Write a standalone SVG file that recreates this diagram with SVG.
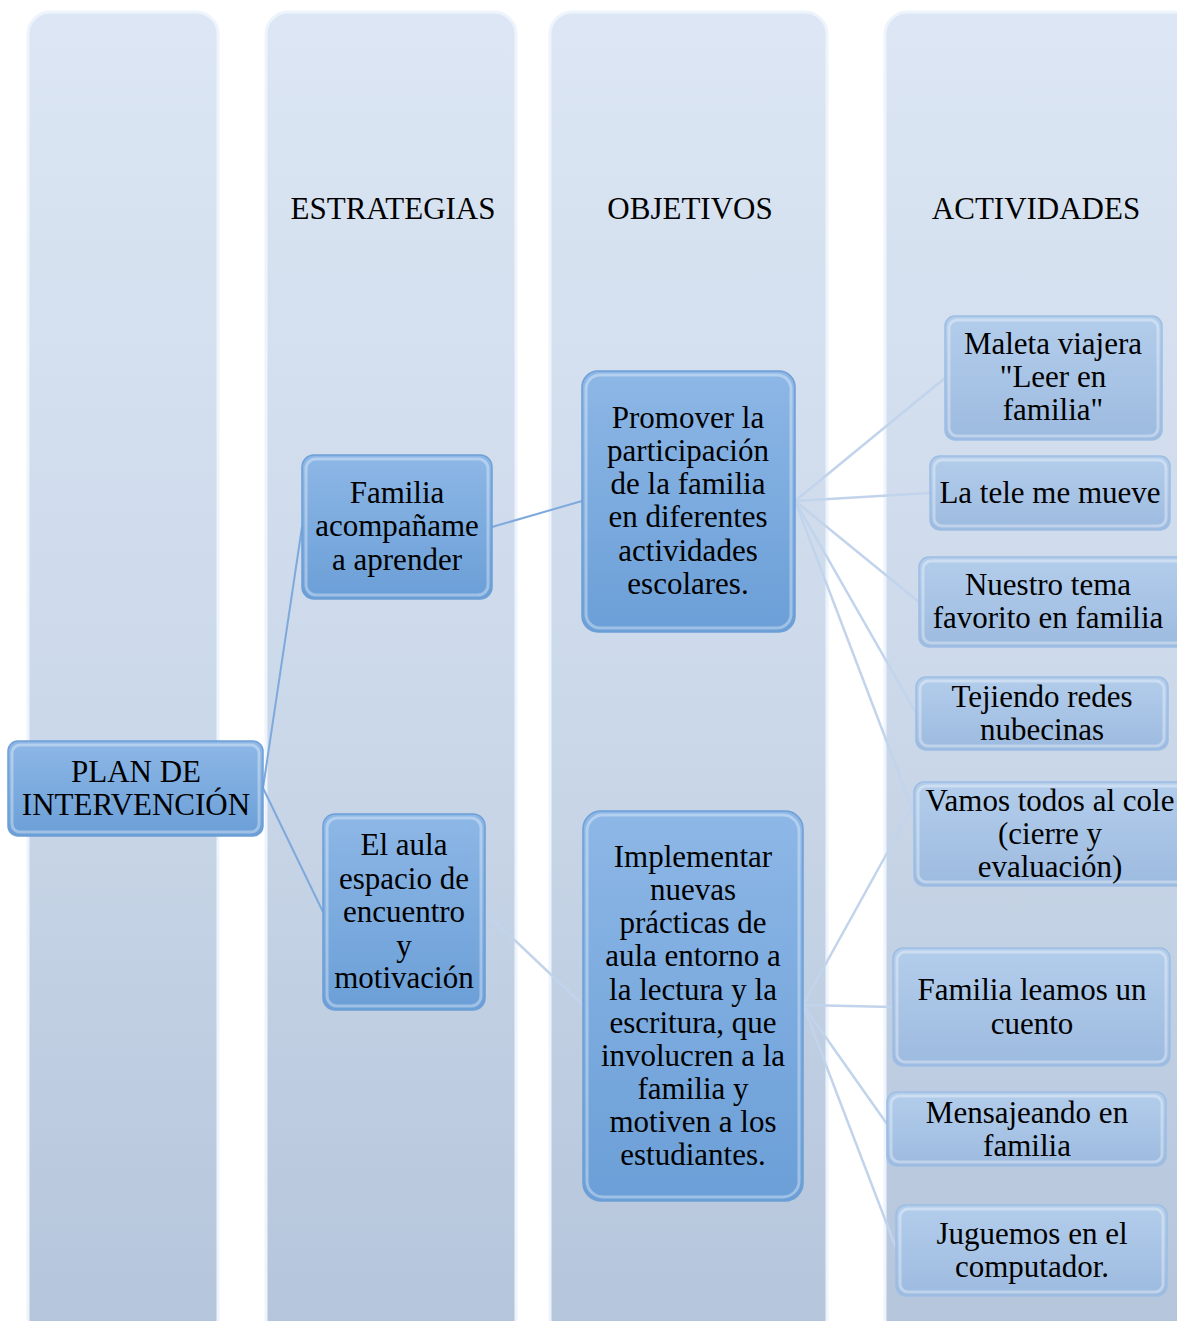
<svg xmlns="http://www.w3.org/2000/svg" width="1177" height="1321" viewBox="0 0 1177 1321">
<defs>
<linearGradient id="colG" x1="0" y1="0" x2="0" y2="1">
<stop offset="0" stop-color="#dce6f4"/>
<stop offset="0.5" stop-color="#ccd9ea"/>
<stop offset="1" stop-color="#b4c4da"/>
</linearGradient>
<linearGradient id="darkG" x1="0" y1="0" x2="0" y2="1">
<stop offset="0" stop-color="#8db7e6"/>
<stop offset="1" stop-color="#6b9fd7"/>
</linearGradient>
<linearGradient id="lightG" x1="0" y1="0" x2="0" y2="1">
<stop offset="0" stop-color="#b3cdeb"/>
<stop offset="1" stop-color="#9dbbe0"/>
</linearGradient>
</defs>
<style>
.col{fill:url(#colG);stroke:#eef4fc;stroke-width:3}
.dark{fill:url(#darkG);stroke:#6e9fd6;stroke-width:1.5}
.light{fill:url(#lightG);stroke:#9dbde3;stroke-width:1.5}
.hl{fill:none;stroke:#ffffff;stroke-opacity:0.35;stroke-width:3}
.t{font-family:"Liberation Serif","Times New Roman",serif;font-size:31px;fill:#000;text-anchor:middle}
.c1{stroke:#7ea9dc;stroke-width:2;fill:none}
.c2{stroke:#c2d4ec;stroke-width:2.5;fill:none}
</style>
<rect width="1177" height="1321" fill="#ffffff"/>
<g id="columns">
<rect class="col" x="28" y="12" width="190" height="1340" rx="22"/>
<rect class="col" x="266" y="12" width="250" height="1340" rx="22"/>
<rect class="col" x="550" y="12" width="277" height="1340" rx="22"/>
<rect class="col" x="885" y="12" width="330" height="1340" rx="22"/>
</g>
<g id="headers">
<text class="t" x="393" y="219">ESTRATEGIAS</text>
<text class="t" x="690" y="219">OBJETIVOS</text>
<text class="t" x="1036" y="219">ACTIVIDADES</text>
</g>
<g id="connectors">
<line class="c1" x1="263" y1="788" x2="302" y2="527"/>
<line class="c1" x1="263" y1="788" x2="323" y2="912"/>
<line class="c1" x1="492" y1="527" x2="582" y2="501"/>
<line class="c2" x1="485" y1="912" x2="583" y2="1005"/>
<line class="c2" x1="795" y1="501" x2="945" y2="378"/>
<line class="c2" x1="795" y1="501" x2="930" y2="493"/>
<line class="c2" x1="795" y1="501" x2="919" y2="602"/>
<line class="c2" x1="795" y1="501" x2="916" y2="713"/>
<line class="c2" x1="795" y1="501" x2="912" y2="808"/>
<line class="c2" x1="803" y1="1005" x2="912" y2="808"/>
<line class="c2" x1="803" y1="1005" x2="893" y2="1007"/>
<line class="c2" x1="803" y1="1005" x2="887" y2="1124"/>
<line class="c2" x1="803" y1="1005" x2="896" y2="1248"/>
</g>
<g id="plan">
<rect class="dark" x="8" y="741" width="255" height="95" rx="10"/>
<rect class="hl" x="12" y="745" width="247" height="87" rx="8"/>
<text class="t" x="136" y="782">PLAN DE</text>
<text class="t" x="136" y="815">INTERVENCIÓN</text>
</g>
<g id="familia">
<rect class="dark" x="302" y="455" width="190" height="144" rx="12"/>
<rect class="hl" x="306" y="459" width="182" height="136" rx="10"/>
<text class="t" x="397" y="503">Familia</text>
<text class="t" x="397" y="536">acompañame</text>
<text class="t" x="397" y="570">a aprender</text>
</g>
<g id="aula">
<rect class="dark" x="323" y="814" width="162" height="196" rx="12"/>
<rect class="hl" x="327" y="818" width="154" height="188" rx="10"/>
<text class="t" x="404" y="855">El aula</text>
<text class="t" x="404" y="889">espacio de</text>
<text class="t" x="404" y="922">encuentro</text>
<text class="t" x="404" y="956">y</text>
<text class="t" x="404" y="988">motivación</text>
</g>
<g id="promover">
<rect class="dark" x="582" y="371" width="213" height="261" rx="16"/>
<rect class="hl" x="586" y="375" width="205" height="253" rx="14"/>
<text class="t" x="688" y="428">Promover la</text>
<text class="t" x="688" y="461">participación</text>
<text class="t" x="688" y="494">de la familia</text>
<text class="t" x="688" y="527">en diferentes</text>
<text class="t" x="688" y="561">actividades</text>
<text class="t" x="688" y="594">escolares.</text>
</g>
<g id="implementar">
<rect class="dark" x="583" y="811" width="220" height="390" rx="18"/>
<rect class="hl" x="587" y="815" width="212" height="382" rx="16"/>
<text class="t" x="693" y="867">Implementar</text>
<text class="t" x="693" y="900">nuevas</text>
<text class="t" x="693" y="933">prácticas de</text>
<text class="t" x="693" y="966">aula entorno a</text>
<text class="t" x="693" y="1000">la lectura y la</text>
<text class="t" x="693" y="1033">escritura, que</text>
<text class="t" x="693" y="1066">involucren a la</text>
<text class="t" x="693" y="1099">familia y</text>
<text class="t" x="693" y="1132">motiven a los</text>
<text class="t" x="693" y="1165">estudiantes.</text>
</g>
<g id="maleta">
<rect class="light" x="945" y="316" width="217" height="124" rx="10"/>
<rect class="hl" x="949" y="320" width="209" height="116" rx="8"/>
<text class="t" x="1053" y="354">Maleta viajera</text>
<text class="t" x="1053" y="387">"Leer en</text>
<text class="t" x="1053" y="420">familia"</text>
</g>
<g id="tele">
<rect class="light" x="930" y="456" width="240" height="74" rx="10"/>
<rect class="hl" x="934" y="460" width="232" height="66" rx="8"/>
<text class="t" x="1050" y="503">La tele me mueve</text>
</g>
<g id="nuestro">
<rect class="light" x="919" y="557" width="268" height="90" rx="10"/>
<rect class="hl" x="923" y="561" width="260" height="82" rx="8"/>
<text class="t" x="1048" y="595">Nuestro tema</text>
<text class="t" x="1048" y="628">favorito en familia</text>
</g>
<g id="tejiendo">
<rect class="light" x="916" y="677" width="252" height="73" rx="10"/>
<rect class="hl" x="920" y="681" width="244" height="65" rx="8"/>
<text class="t" x="1042" y="707">Tejiendo redes</text>
<text class="t" x="1042" y="740">nubecinas</text>
</g>
<g id="vamos">
<rect class="light" x="914" y="782" width="276" height="104" rx="10"/>
<rect class="hl" x="918" y="786" width="268" height="96" rx="8"/>
<text class="t" x="1050" y="811">Vamos todos al cole</text>
<text class="t" x="1050" y="844">(cierre y</text>
<text class="t" x="1050" y="877">evaluación)</text>
</g>
<g id="leamos">
<rect class="light" x="893" y="948" width="277" height="118" rx="10"/>
<rect class="hl" x="897" y="952" width="269" height="110" rx="8"/>
<text class="t" x="1032" y="1000">Familia leamos un</text>
<text class="t" x="1032" y="1034">cuento</text>
</g>
<g id="mensajeando">
<rect class="light" x="887" y="1092" width="279" height="74" rx="10"/>
<rect class="hl" x="891" y="1096" width="271" height="66" rx="8"/>
<text class="t" x="1027" y="1123">Mensajeando en</text>
<text class="t" x="1027" y="1156">familia</text>
</g>
<g id="juguemos">
<rect class="light" x="896" y="1205" width="271" height="91" rx="10"/>
<rect class="hl" x="900" y="1209" width="263" height="83" rx="8"/>
<text class="t" x="1032" y="1244">Juguemos en el</text>
<text class="t" x="1032" y="1277">computador.</text>
</g>
</svg>
